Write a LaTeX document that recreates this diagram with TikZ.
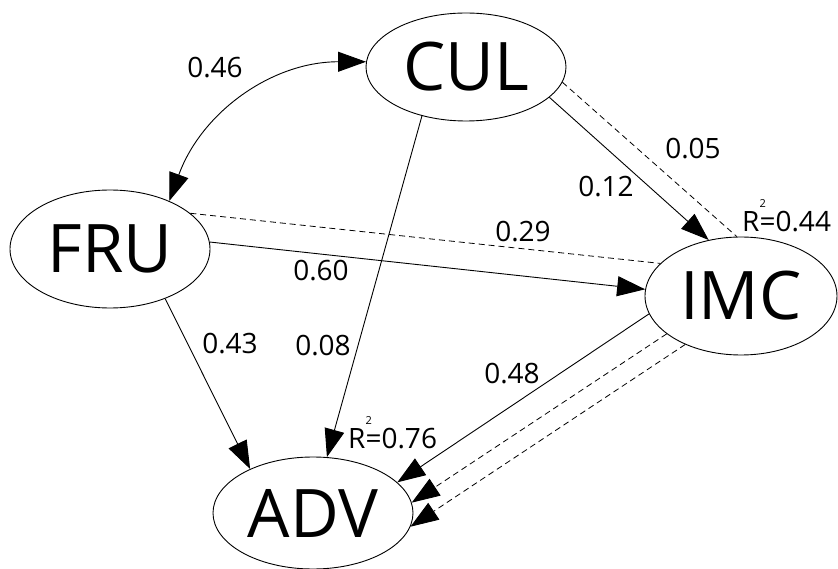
\documentclass[tikz,border=0pt]{standalone}
\usepackage{fontspec}
\setmainfont{Open Sans}
\usetikzlibrary{shapes.geometric,arrows.meta}
% R with a small raised 2 sitting over the following sign
\newcommand{\rsquared}{R\makebox[0pt][l]{\raisebox{24pt}{\fontsize{11}{11}\selectfont 2}}}
\begin{document}
\begin{tikzpicture}[x=1pt,y=-1pt,
  latent/.style={ellipse,draw,line width=0.9pt,inner sep=0pt,
    font=\fontsize{67}{67}\selectfont},
  tip/.tip={Triangle[length=28pt,width=20pt]},
  effect/.style={line width=0.9pt,-tip},
  weak/.style={line width=0.8pt,dash pattern=on 6pt off 4pt},
  coef/.style={font=\fontsize{28}{28}\selectfont,inner sep=0pt}]
\useasboundingbox (0,0) rectangle (838,569);

% latent constructs
\node[latent,minimum width=200pt,minimum height=108pt] (CUL) at (466,67) {CUL};
\node[latent,minimum width=200pt,minimum height=118pt] (FRU) at (110,249) {FRU};
\node[latent,minimum width=192pt,minimum height=118pt] (IMC) at (741,296) {IMC};
\node[latent,minimum width=200pt,minimum height=112pt] (ADV) at (313,513) {ADV};

% correlation
\draw[line width=0.9pt,tip-tip] (CUL.177) to[out=180,in=70] (FRU.39);

% paths
\draw[effect] (CUL.228) -- (ADV.76);
\draw[effect] (CUL.-20) -- (IMC.120);
\draw[weak] (CUL.-9) -- (IMC.94);
\draw[weak] (FRU.24) -- (IMC.158);
\draw[effect] (FRU.4) -- (IMC.176);
\draw[effect] (FRU.-42) -- (ADV.145);
\draw[effect] (IMC.191) -- (ADV.20);
\draw[weak,-tip] (IMC.207) -- (ADV.6);
\draw[weak,-tip] (IMC.221) -- (ADV.-8);

% coefficients
\node[coef] (c46) at (215,68) {0.46};
\node[coef] (c05) at (693,149) {0.05};
\node[coef] (c12) at (606,187) {0.12};
\node[coef] (c29) at (523,232) {0.29};
\node[coef] (c60) at (321,271) {0.60};
\node[coef] (c08) at (323,346) {0.08};
\node[coef] (c43) at (230,344) {0.43};
\node[coef] (c48) at (512,374) {0.48};

% explained variance
\node[coef,anchor=base west] (rimc) at (742,232) {\rsquared=0.44};
\node[coef,anchor=base west] (radv) at (348,448) {\rsquared=0.76};
\end{tikzpicture}
\end{document}
